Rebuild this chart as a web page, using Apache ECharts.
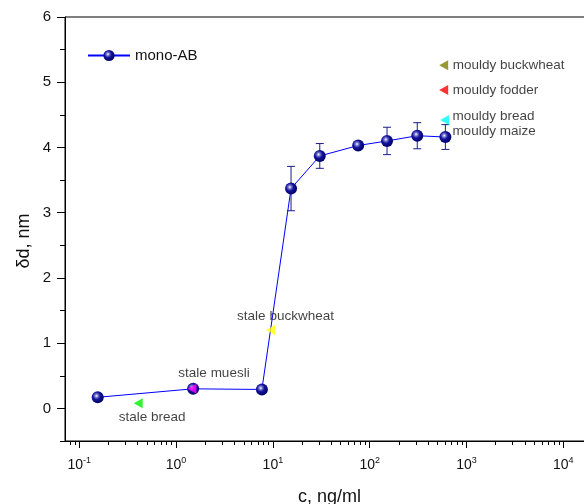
<!DOCTYPE html>
<html>
<head>
<meta charset="utf-8">
<script src="https://cdn.jsdelivr.net/npm/echarts@6/dist/echarts.min.js"></script>
<style>
  html, body { margin: 0; padding: 0; background: #fff; }
  #chart { width: 584px; height: 504px; }
</style>
</head>
<body>
<div id="chart"></div>
<script>
// mono-AB titration: optical thickness change vs. concentration
const concentration = [0.155, 1.5, 7.7, 15.4, 30.5, 76, 151, 310, 605];
const thicknessShift = [0.17, 0.30, 0.29, 3.37, 3.87, 4.03, 4.10, 4.18, 4.16];
const thicknessError = [0.01, 0.01, 0.01, 0.34, 0.19, 0.03, 0.21, 0.20, 0.19];

// real samples measured with the same assay
const sampleNames = ['stale bread', 'stale muesli', 'stale buckwheat',
  'mouldy buckwheat', 'mouldy fodder', 'mouldy bread', 'mouldy maize'];
const sampleConcentration = [0.406, 1.46, 9.45, 581, 581, 594, 605];
const sampleShift = [0.08, 0.30, 1.20, 5.26, 4.88, 4.42, 4.16];

// axis ticks
const xMajorTicks = [0.1, 1, 10, 100, 1000, 10000];
const yTickLabels = [0, 1, 2, 3, 4, 5, 6];
const yMinorTicks = [-0.5, 0.5, 1.5, 2.5, 3.5, 4.5, 5.5];

const xMinorTicks = [];
for (let k = -2; k <= 4; k++) {
  for (let m = 2; m <= 9; m++) xMinorTicks.push(+(m * Math.pow(10, k)).toPrecision(3));
}

const FONT = 'Liberation Sans, Arial, Helvetica, sans-serif';
const INK = '#111';

// marker colours and label placement for the sample triangles
const sampleStyle = {
  'stale bread':      { color: '#00ee00', offset: [14, 14],  align: 'center' },
  'stale muesli':     { color: '#ff00ff', offset: [22, -16], align: 'center' },
  'stale buckwheat':  { color: '#ffff00', offset: [15, -14], align: 'center' },
  'mouldy buckwheat': { color: '#808000', offset: [9, 0],    align: 'left' },
  'mouldy fodder':    { color: '#ff0000', offset: [9, 0],    align: 'left' },
  'mouldy bread':     { color: '#00ffff', offset: [8, -4],   align: 'left' },
  'mouldy maize':     { color: 'rgba(0,0,0,0)', offset: [7, -6], align: 'left' }
};

const sphere = {
  type: 'radial', x: 0.4, y: 0.38, r: 0.62,
  colorStops: [
    { offset: 0, color: '#ffffff' },
    { offset: 0.22, color: '#7a7ad0' },
    { offset: 0.5, color: '#14149c' },
    { offset: 1, color: '#000066' }
  ]
};

const xLog = { min: 0.0712, max: 20750 };

const chart = echarts.init(document.getElementById('chart'), null, { renderer: 'canvas' });

chart.setOption({
  animation: false,
  backgroundColor: '#fff',
  grid: {
    left: 65, top: 17, bottom: 63, right: -10,
    outerBoundsMode: 'none', containLabel: false,
    show: true, borderColor: '#000', borderWidth: 1, backgroundColor: 'transparent'
  },
  legend: {
    data: ['mono-AB'],
    left: 87, top: 48, padding: 0,
    itemWidth: 42, itemHeight: 14,
    textStyle: { fontSize: 15, color: INK, fontFamily: FONT }
  },
  xAxis: [
    {
      type: 'log', logBase: 10, min: xLog.min, max: xLog.max,
      position: 'bottom',
      name: 'c, ng/ml', nameLocation: 'middle', nameGap: 47,
      nameTextStyle: { fontSize: 18, color: INK, fontFamily: FONT },
      axisLine: { show: true, onZero: false, lineStyle: { color: '#000', width: 1 } },
      axisTick: { show: true, inside: false, length: 7, customValues: xMajorTicks,
        lineStyle: { color: '#000', width: 1 } },
      axisLabel: {
        customValues: xMajorTicks, margin: 15,
        formatter: v => '{b|10}{s|' + Math.round(Math.log10(v)) + '}',
        rich: {
          b: { fontSize: 14, color: INK, fontFamily: FONT, verticalAlign: 'bottom', lineHeight: 16 },
          s: { fontSize: 9, color: INK, fontFamily: FONT, verticalAlign: 'top', lineHeight: 16 }
        }
      },
      splitLine: { show: false }
    },
    {
      type: 'log', logBase: 10, min: xLog.min, max: xLog.max,
      position: 'bottom',
      axisLine: { show: false, onZero: false },
      axisTick: { show: true, inside: false, length: 4, customValues: xMinorTicks,
        lineStyle: { color: '#000', width: 1 } },
      axisLabel: { show: false },
      splitLine: { show: false }
    }
  ],
  yAxis: [
    {
      type: 'value', min: -0.5, max: 6, interval: 0.5,
      position: 'left',
      axisLine: { show: true, onZero: false, lineStyle: { color: '#000', width: 1 } },
      axisTick: { show: true, inside: false, length: 8, customValues: yTickLabels,
        lineStyle: { color: '#000', width: 1 } },
      axisLabel: { customValues: yTickLabels, margin: 14, fontSize: 15, color: INK, fontFamily: FONT },
      splitLine: { show: false }
    },
    {
      type: 'value', min: -0.5, max: 6, interval: 0.5,
      position: 'left',
      axisLine: { show: false, onZero: false },
      axisTick: { show: true, inside: false, length: 5, customValues: yMinorTicks,
        lineStyle: { color: '#000', width: 1 } },
      axisLabel: { show: false },
      splitLine: { show: false }
    }
  ],
  graphic: [{
    type: 'text', x: 24, y: 241, rotation: Math.PI / 2,
    style: { text: 'δd, nm', fontSize: 18, fontFamily: FONT, fill: INK,
      align: 'center', verticalAlign: 'middle' }
  }],
  series: [
    {
      name: 'error',
      type: 'custom',
      z: 1,
      data: concentration.map((c, i) => [c, thicknessShift[i], thicknessError[i]]),
      encode: { x: 0, y: 1 },
      renderItem(params, api) {
        const x = api.value(0), y = api.value(1), e = api.value(2);
        const hi = api.coord([x, y + e]);
        const lo = api.coord([x, y - e]);
        const cap = 4;
        const st = { stroke: '#1c1c8c', lineWidth: 1 };
        return {
          type: 'group',
          children: [
            { type: 'line', shape: { x1: hi[0], y1: hi[1], x2: lo[0], y2: lo[1] }, style: st },
            { type: 'line', shape: { x1: hi[0] - cap, y1: hi[1], x2: hi[0] + cap, y2: hi[1] }, style: st },
            { type: 'line', shape: { x1: lo[0] - cap, y1: lo[1], x2: lo[0] + cap, y2: lo[1] }, style: st }
          ]
        };
      }
    },
    {
      name: 'mono-AB',
      type: 'line',
      z: 2,
      data: concentration.map((c, i) => [c, thicknessShift[i]]),
      symbol: 'circle',
      symbolSize: 12,
      showAllSymbol: true,
      lineStyle: { color: '#0000ff', width: 1 },
      itemStyle: { color: sphere, borderWidth: 0 }
    },
    {
      name: 'samples',
      type: 'scatter',
      z: 3,
      symbol: 'triangle',
      symbolRotate: 90,
      symbolSize: [10, 9],
      data: sampleNames.map((n, i) => ({
        name: n,
        value: [sampleConcentration[i], sampleShift[i]],
        itemStyle: { color: sampleStyle[n].color },
        label: {
          show: true, position: 'inside', formatter: n,
          offset: sampleStyle[n].offset, align: sampleStyle[n].align,
          verticalAlign: 'middle',
          fontSize: 13.5, color: INK, fontFamily: FONT,
          textBorderWidth: 0
        }
      }))
    }
  ]
});
</script>
</body>
</html>
